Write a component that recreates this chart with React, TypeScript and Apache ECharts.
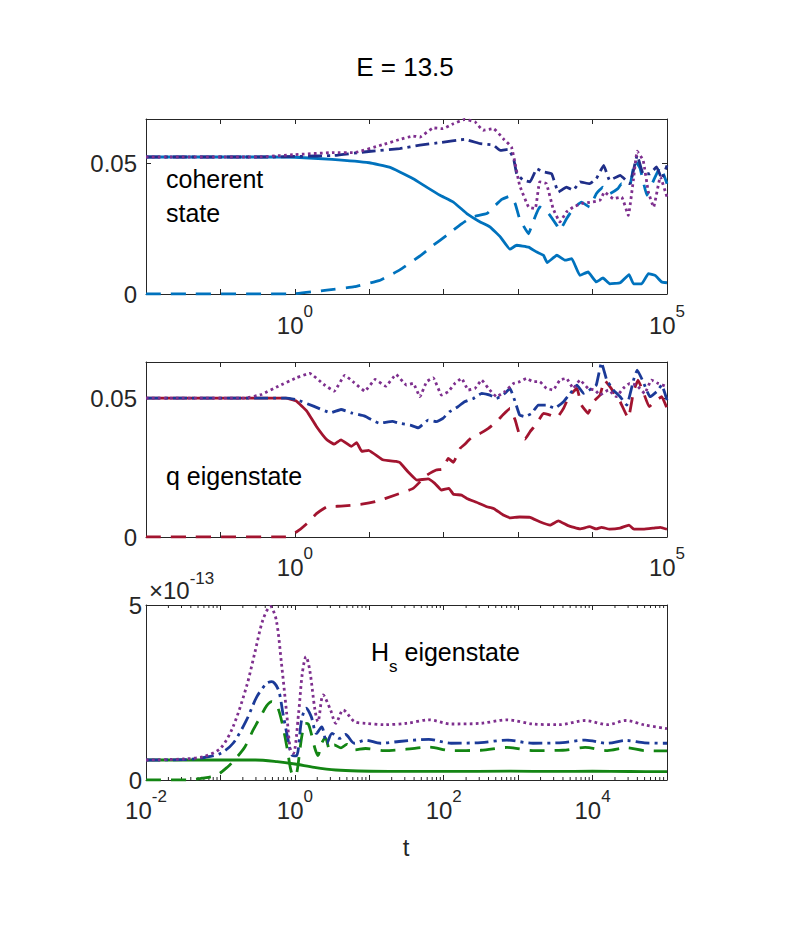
import React, { useEffect, useRef } from "react";
import * as echarts from "echarts";

// Each point is [log10(t), value].
// Panel 1: coherent state
const coherentSolid: number[][] = [
  [-2, 0.0523], [-1, 0.0523], [-0.3, 0.0523], [0, 0.0522], [0.5, 0.0514], [1.0, 0.0501], [1.27, 0.0484],
  [1.41, 0.0466], [1.59, 0.044], [1.77, 0.0408], [1.95, 0.0377], [2.13, 0.0351], [2.31, 0.0307],
  [2.49, 0.0275], [2.62, 0.0256], [2.76, 0.0218], [2.89, 0.0171], [2.98, 0.0186], [3.14, 0.0179],
  [3.25, 0.016], [3.34, 0.0148], [3.39, 0.012], [3.52, 0.0148], [3.63, 0.0129], [3.72, 0.0135],
  [3.83, 0.0071], [3.94, 0.0084], [4.05, 0.0046], [4.14, 0.0061], [4.23, 0.0039], [4.37, 0.0043],
  [4.49, 0.0074], [4.55, 0.0039], [4.66, 0.0039], [4.75, 0.0078], [4.84, 0.0071], [4.93, 0.0046], [5.0, 0.0043],
];
const coherentDashed: number[][] = [
  [-2, 0], [-0.05, 0], [0.43, 0.0015], [0.8, 0.0028], [1.13, 0.0051], [1.41, 0.0092], [1.68, 0.0145],
  [1.86, 0.0186], [2.04, 0.0224], [2.24, 0.0268], [2.38, 0.0294], [2.58, 0.0307], [2.67, 0.0332],
  [2.78, 0.0361], [2.89, 0.0374], [2.96, 0.0345], [3.02, 0.0287], [3.14, 0.023], [3.2, 0.0275],
  [3.29, 0.0332], [3.41, 0.0307], [3.52, 0.0262], [3.56, 0.0243], [3.65, 0.0287], [3.74, 0.0326],
  [3.85, 0.0351], [3.96, 0.0332], [4.05, 0.0383], [4.14, 0.0408], [4.23, 0.0383], [4.34, 0.0402],
  [4.39, 0.0421], [4.5, 0.0415], [4.57, 0.051], [4.64, 0.0478], [4.73, 0.0377], [4.82, 0.0434],
  [4.91, 0.0485], [5.0, 0.0421],
];
const coherentDashDot: number[][] = [
  [-2, 0.0523], [-0.3, 0.0523], [0, 0.0525], [0.53, 0.0529], [0.99, 0.0544], [1.41, 0.0555],
  [1.68, 0.0568], [1.95, 0.0578], [2.28, 0.059], [2.49, 0.0574], [2.67, 0.0568], [2.76, 0.0548],
  [2.87, 0.0552], [2.94, 0.0516], [2.98, 0.0459], [3.07, 0.0434], [3.16, 0.0428], [3.25, 0.0478],
  [3.34, 0.0466], [3.45, 0.0459], [3.54, 0.0389], [3.65, 0.0408], [3.74, 0.0396], [3.83, 0.0428],
  [3.96, 0.0421], [4.05, 0.044], [4.15, 0.0491], [4.23, 0.0434], [4.37, 0.0453], [4.5, 0.0421],
  [4.6, 0.0529], [4.68, 0.0459], [4.77, 0.0459], [4.86, 0.0485], [4.93, 0.044], [5.0, 0.0491],
];
const coherentDotted: number[][] = [
  [-2, 0.0523], [-0.5, 0.0523], [0, 0.0532], [0.53, 0.054], [0.8, 0.054], [1.18, 0.057], [1.41, 0.059],
  [1.59, 0.0603], [1.68, 0.0599], [1.86, 0.0634], [1.99, 0.0631], [2.13, 0.065], [2.28, 0.0666],
  [2.42, 0.0657], [2.53, 0.0625], [2.67, 0.0631], [2.8, 0.0593], [2.91, 0.0561], [2.96, 0.0497],
  [3.02, 0.0415], [3.14, 0.0332], [3.23, 0.0326], [3.29, 0.0428], [3.38, 0.0421], [3.47, 0.0326],
  [3.56, 0.0275], [3.65, 0.0313], [3.74, 0.0332], [3.85, 0.0345], [3.99, 0.0351], [4.1, 0.0358],
  [4.16, 0.0389], [4.28, 0.0364], [4.39, 0.037], [4.48, 0.03], [4.55, 0.044], [4.6, 0.0545],
  [4.68, 0.051], [4.75, 0.0389], [4.82, 0.0332], [4.91, 0.0447], [5.0, 0.037],
];

// Panel 2: q eigenstate
const qSolid: number[][] = [
  [-2, 0.05], [-0.12, 0.05], [0.02, 0.0489], [0.16, 0.0453], [0.29, 0.0398], [0.43, 0.035], [0.53, 0.0334],
  [0.62, 0.035], [0.76, 0.0326], [0.83, 0.034], [0.9, 0.0308], [0.99, 0.0312], [1.18, 0.0278],
  [1.36, 0.0272], [1.41, 0.0268], [1.52, 0.0235], [1.64, 0.0205], [1.79, 0.0209], [1.88, 0.0193],
  [1.97, 0.0169], [2.07, 0.0175], [2.13, 0.0154], [2.24, 0.0151], [2.31, 0.0139], [2.44, 0.0125],
  [2.58, 0.0109], [2.67, 0.0103], [2.8, 0.0079], [2.89, 0.0069], [3.02, 0.0072], [3.16, 0.0071],
  [3.29, 0.0055], [3.43, 0.0043], [3.54, 0.0058], [3.67, 0.0041], [3.83, 0.0029], [3.96, 0.0037],
  [4.05, 0.0029], [4.12, 0.0035], [4.23, 0.0028], [4.37, 0.0032], [4.49, 0.0043], [4.55, 0.0029],
  [4.68, 0.0028], [4.82, 0.0032], [4.91, 0.0035], [5.0, 0.0028],
];
const qDashed: number[][] = [
  [-2, 0], [-0.12, 0], [0.02, 0.0018], [0.16, 0.0048], [0.29, 0.0084], [0.43, 0.0109], [0.62, 0.0111],
  [0.9, 0.0118], [1.08, 0.0127], [1.36, 0.0152], [1.59, 0.0175], [1.77, 0.0222], [1.9, 0.0241],
  [1.99, 0.0245], [2.06, 0.0283], [2.13, 0.0269], [2.22, 0.0319], [2.28, 0.0333], [2.37, 0.0357],
  [2.49, 0.0373], [2.6, 0.0391], [2.71, 0.0415], [2.8, 0.0441], [2.89, 0.0463], [2.96, 0.0421],
  [3.02, 0.0367], [3.09, 0.0352], [3.16, 0.0379], [3.25, 0.0409], [3.34, 0.0445], [3.43, 0.0439],
  [3.52, 0.0429], [3.61, 0.0463], [3.67, 0.0499], [3.74, 0.0523], [3.79, 0.0535], [3.85, 0.0475],
  [3.94, 0.0445], [4.01, 0.0487], [4.1, 0.0511], [4.16, 0.0565], [4.25, 0.0535], [4.37, 0.0487],
  [4.48, 0.0427], [4.55, 0.0523], [4.61, 0.0565], [4.68, 0.0523], [4.76, 0.0469], [4.86, 0.0493],
  [4.93, 0.0505], [5.0, 0.0463],
];
const qDashDot: number[][] = [
  [-2, 0.05], [-0.12, 0.05], [0.02, 0.0495], [0.25, 0.0471], [0.48, 0.0447], [0.62, 0.0459], [0.76, 0.0447],
  [0.94, 0.0435], [1.13, 0.041], [1.31, 0.0416], [1.41, 0.0409], [1.55, 0.0403], [1.66, 0.0393],
  [1.79, 0.0421], [1.9, 0.0415], [1.99, 0.0427], [2.08, 0.0451], [2.19, 0.0469], [2.28, 0.0487],
  [2.4, 0.0499], [2.51, 0.0517], [2.62, 0.0511], [2.71, 0.0499], [2.82, 0.0517], [2.89, 0.0535],
  [2.96, 0.0487], [3.02, 0.0439], [3.09, 0.0433], [3.18, 0.0445], [3.27, 0.0475], [3.38, 0.0475],
  [3.49, 0.0463], [3.61, 0.0487], [3.7, 0.0517], [3.79, 0.0547], [3.88, 0.0517], [3.99, 0.0535],
  [4.05, 0.0547], [4.12, 0.0628], [4.19, 0.0565], [4.28, 0.0529], [4.37, 0.0505], [4.46, 0.0475],
  [4.55, 0.0565], [4.6, 0.0601], [4.68, 0.0559], [4.77, 0.0505], [4.86, 0.0523], [4.93, 0.0547],
  [5.0, 0.0493],
];
const qDotted: number[][] = [
  [-2, 0.05], [-0.68, 0.05], [-0.45, 0.0513], [-0.22, 0.0543], [0.02, 0.0573], [0.2, 0.0589], [0.39, 0.0549],
  [0.53, 0.0525], [0.67, 0.0582], [0.8, 0.0555], [0.94, 0.0525], [1.08, 0.0567], [1.22, 0.0543],
  [1.36, 0.0585], [1.5, 0.0547], [1.59, 0.0553], [1.68, 0.0505], [1.77, 0.0559], [1.86, 0.0573],
  [1.97, 0.0511], [2.06, 0.0523], [2.15, 0.0553], [2.24, 0.0571], [2.33, 0.0529], [2.42, 0.0535],
  [2.51, 0.0565], [2.6, 0.0535], [2.71, 0.0505], [2.82, 0.0523], [2.94, 0.0553], [3.02, 0.0559],
  [3.11, 0.0571], [3.2, 0.0559], [3.29, 0.0559], [3.38, 0.0535], [3.47, 0.0529], [3.56, 0.0565],
  [3.65, 0.0571], [3.74, 0.0535], [3.83, 0.0565], [3.94, 0.0535], [4.03, 0.0529], [4.1, 0.0511],
  [4.21, 0.0529], [4.32, 0.0505], [4.41, 0.0535], [4.5, 0.0553], [4.59, 0.0547], [4.7, 0.0517],
  [4.79, 0.0565], [4.88, 0.0553], [5.0, 0.0541],
];

// Panel 3: Hs eigenstate (values in units of 1e-13)
const hsSolid: number[][] = [
  [-2, 0.571], [-0.53, 0.571], [-0.24, 0.524], [0, 0.457], [0.26, 0.362], [0.55, 0.286], [0.85, 0.257],
  [1.35, 0.248], [2.0, 0.245], [2.9, 0.252], [3.5, 0.244], [4.0, 0.25], [4.5, 0.243], [5.0, 0.24],
];
const hsDashed: number[][] = [
  [-2, 0], [-1.45, 0], [-1.25, 0.05], [-1.05, 0.14], [-0.9, 0.38], [-0.8, 0.6], [-0.67, 0.95],
  [-0.56, 1.43], [-0.45, 1.85], [-0.38, 2.12], [-0.31, 2.24], [-0.24, 2.12], [-0.17, 1.62],
  [-0.1, 0.86], [-0.05, 0.25], [0.0, 0.1], [0.03, 0.25], [0.07, 0.9], [0.1, 1.33], [0.14, 1.62],
  [0.18, 1.6], [0.22, 1.33], [0.27, 0.9], [0.31, 0.7], [0.36, 1.05], [0.41, 1.2], [0.47, 0.86],
  [0.53, 1.0], [0.62, 0.92], [0.7, 1.02], [0.8, 0.86], [0.95, 0.9], [1.2, 0.84], [1.5, 0.88],
  [1.8, 0.94], [2.1, 0.84], [2.5, 0.85], [2.85, 0.93], [3.2, 0.84], [3.6, 0.85], [3.9, 0.93],
  [4.2, 0.84], [4.45, 0.92], [4.7, 0.84], [5.0, 0.83],
];
const hsDashDot: number[][] = [
  [-2, 0.571], [-1.5, 0.58], [-1.2, 0.65], [-1.0, 0.76], [-0.83, 1.05], [-0.65, 1.71], [-0.51, 2.38],
  [-0.38, 2.76], [-0.31, 2.81], [-0.22, 2.57], [-0.16, 1.9], [-0.09, 1.14], [-0.04, 0.71], [0.02, 0.69],
  [0.09, 1.71], [0.15, 2.05], [0.22, 1.81], [0.29, 1.33], [0.36, 1.52], [0.43, 1.05], [0.5, 1.33],
  [0.6, 1.19], [0.68, 1.3], [0.8, 1.05], [0.95, 1.14], [1.15, 1.05], [1.4, 1.1], [1.8, 1.16],
  [2.1, 1.05], [2.5, 1.07], [2.85, 1.14], [3.2, 1.05], [3.6, 1.07], [3.9, 1.14], [4.2, 1.05],
  [4.45, 1.13], [4.7, 1.06], [5.0, 1.05],
];
const hsDotted: number[][] = [
  [-2, 0.571], [-1.5, 0.6], [-1.23, 0.667], [-1.0, 0.905], [-0.83, 1.524], [-0.65, 2.667], [-0.54, 3.619],
  [-0.43, 4.571], [-0.33, 4.96], [-0.25, 4.571], [-0.18, 3.333], [-0.11, 1.905], [-0.06, 0.857],
  [-0.02, 0.762], [0.05, 1.905], [0.1, 3.048], [0.15, 3.524], [0.2, 3.14], [0.27, 2.0], [0.31, 1.67],
  [0.38, 2.43], [0.48, 2.0], [0.55, 1.62], [0.65, 2.0], [0.8, 1.67], [0.95, 1.62], [1.2, 1.58],
  [1.5, 1.62], [1.8, 1.72], [2.1, 1.6], [2.5, 1.62], [2.85, 1.72], [3.2, 1.6], [3.56, 1.58],
  [3.9, 1.7], [4.2, 1.58], [4.45, 1.7], [4.7, 1.57], [5.0, 1.47],
];

// axis tick labels / limits
const xMin = 0.01;
const xMax = 1e5;
const yMaxTop = 0.0668;
const yMaxMid = 0.063;
const yMaxBot = 5;
const topLabelExps = [0, 5];
const botLabelExps = [-2, 0, 2, 4];
const minorMantissas = [2, 3, 4, 5, 6, 7, 8, 9];
const minorDecades = [0.01, 0.1, 1, 10, 100, 1000, 10000];

const AX = "#262626";
const FONT = "'Liberation Sans', Arial, Helvetica, sans-serif";
const LW = 2.8;
const DASH = [15, 10];
const DASHDOT = [14, 5, 3, 5];
const DOT = [2.7, 3.3];

const toXY = (pts: number[][]) => pts.map(([e, v]) => [Math.pow(10, e), v]);

export default function App() {
  const ref = useRef<HTMLDivElement>(null);
  useEffect(() => {
    if (!ref.current) return;
    const chart = echarts.init(ref.current, undefined, { renderer: "svg" });

    const expRich = {
      b: { fontSize: 24, fontFamily: FONT, color: AX, height: 40, lineHeight: 40, verticalAlign: "top" },
      s: { fontSize: 17, fontFamily: FONT, color: AX, height: 12, lineHeight: 12, verticalAlign: "top" },
    };
    const xAx = (gridIndex: number, position: string, exps: number[] | null, margin = 10) => ({
      type: "log",
      logBase: 10,
      gridIndex,
      position,
      min: xMin,
      max: xMax,
      splitNumber: 7,
      axisLine: { show: true, onZero: false, lineStyle: { color: AX, width: 1 } },
      axisTick: { show: true, inside: true, length: 5, lineStyle: { color: AX, width: 1 } },
      splitLine: { show: false },
      minorTick: { show: false },
      axisLabel: exps
        ? {
            show: true,
            margin,
            showMinLabel: true,
            showMaxLabel: true,
            formatter: (v: number) => {
              const e = Math.round(Math.log10(v));
              return exps.indexOf(e) >= 0 ? `{b|10}{s|${e}}` : "";
            },
            rich: expRich,
          }
        : { show: false },
    });
    const yAx = (gridIndex: number, position: string, max: number, interval: number, labels: boolean, margin: number) => ({
      type: "value",
      gridIndex,
      position,
      min: 0,
      max,
      interval,
      axisLine: { show: true, onZero: false, lineStyle: { color: AX, width: 1 } },
      axisTick: { show: true, inside: true, length: 5, lineStyle: { color: AX, width: 1 } },
      splitLine: { show: false },
      axisLabel: labels
        ? {
            show: true,
            margin,
            fontSize: 24,
            fontFamily: FONT,
            color: AX,
            padding: [6, 0, 0, 0],
            showMaxLabel: true,
            formatter: (v: number) => {
              if (Math.abs(v) < 1e-12) return "0";
              if (Math.abs(v - interval) < 1e-9) return String(interval);
              return "";
            },
          }
        : { show: false },
    });

    const line = (data: number[][], color: string, type: any, xi: number) => ({
      type: "line",
      xAxisIndex: xi,
      yAxisIndex: xi,
      data: toXY(data),
      showSymbol: false,
      symbol: "none",
      smooth: xi >= 4 ? 0.3 : 0.1,
      lineStyle: { color, width: LW, type, cap: "butt", join: "round" },
    });

    const minorTicks: number[][] = [];
    minorDecades.forEach((d) => minorMantissas.forEach((m) => minorTicks.push([m * d, 0])));

    const LBLUE = "#0072BD";
    const NAVY = "#1f2e88";
    const BLUE2 = "#1b3a98";
    const PURPLE = "#7E2F8E";
    const RED = "#A2142F";
    const GREEN = "#138513";

    chart.setOption({
      animation: false,
      backgroundColor: "#ffffff",
      grid: [
        { left: 146, top: 119, width: 521, height: 175 },
        { left: 146, top: 362, width: 521, height: 175 },
        { left: 146, top: 605, width: 521, height: 175 },
      ],
      xAxis: [
        xAx(0, "bottom", topLabelExps, 11),
        xAx(0, "top", null),
        xAx(1, "bottom", topLabelExps, 10),
        xAx(1, "top", null),
        xAx(2, "bottom", botLabelExps, 10),
        xAx(2, "top", null),
      ],
      yAxis: [
        yAx(0, "left", yMaxTop, 0.05, true, 9),
        yAx(0, "right", yMaxTop, 0.05, false, 9),
        yAx(1, "left", yMaxMid, 0.05, true, 9),
        yAx(1, "right", yMaxMid, 0.05, false, 9),
        yAx(2, "left", yMaxBot, 5, true, 4),
        yAx(2, "right", yMaxBot, 5, false, 4),
      ],
      series: [
        line(coherentSolid, LBLUE, "solid", 0),
        line(coherentDashed, LBLUE, DASH, 0),
        line(coherentDashDot, NAVY, DASHDOT, 0),
        line(coherentDotted, PURPLE, DOT, 0),
        line(qSolid, RED, "solid", 2),
        line(qDashed, RED, DASH, 2),
        line(qDashDot, BLUE2, DASHDOT, 2),
        line(qDotted, PURPLE, DOT, 2),
        line(hsSolid, GREEN, "solid", 4),
        line(hsDashed, GREEN, DASH, 4),
        line(hsDashDot, BLUE2, DASHDOT, 4),
        line(hsDotted, PURPLE, DOT, 4),
        {
          type: "custom",
          xAxisIndex: 4,
          yAxisIndex: 4,
          silent: true,
          clip: false,
          data: minorTicks,
          encode: { x: 0, y: 1 },
          renderItem: (_p: any, api: any) => {
            const t = api.value(0);
            const b = api.coord([t, 0]);
            const tp = api.coord([t, yMaxBot]);
            return {
              type: "group",
              children: [
                { type: "line", shape: { x1: b[0], y1: b[1], x2: b[0], y2: b[1] - 3 }, style: { stroke: AX, lineWidth: 1 } },
                { type: "line", shape: { x1: tp[0], y1: tp[1], x2: tp[0], y2: tp[1] + 3 }, style: { stroke: AX, lineWidth: 1 } },
              ],
            };
          },
        },
      ],
      graphic: [
        { type: "text", x: 405, y: 67, style: { text: "E = 13.5", fontSize: 26, fontFamily: FONT, fill: "#000", align: "center", verticalAlign: "middle" } },
        { type: "text", x: 166, y: 179, style: { text: "coherent", fontSize: 25, fontFamily: FONT, fill: "#000", align: "left", verticalAlign: "middle" } },
        { type: "text", x: 166, y: 213, style: { text: "state", fontSize: 25, fontFamily: FONT, fill: "#000", align: "left", verticalAlign: "middle" } },
        { type: "text", x: 166, y: 475.5, style: { text: "q eigenstate", fontSize: 25, fontFamily: FONT, fill: "#000", align: "left", verticalAlign: "middle" } },
        {
          type: "text",
          x: 371,
          y: 637,
          style: {
            text: "{h|H}{sub|s}{n| eigenstate}",
            align: "left",
            verticalAlign: "top",
            fill: "#000",
            rich: {
              h: { fontSize: 25, fontFamily: FONT, fill: "#000", height: 30, lineHeight: 30, verticalAlign: "top" },
              sub: { fontSize: 17, fontFamily: FONT, fill: "#000", height: 58, lineHeight: 58, verticalAlign: "top" },
              n: { fontSize: 25, fontFamily: FONT, fill: "#000", height: 30, lineHeight: 30, verticalAlign: "top" },
            },
          },
        },
        {
          type: "text",
          x: 149,
          y: 570,
          style: {
            text: "{b|\u00d710}{s|-13}",
            align: "left",
            verticalAlign: "top",
            fill: AX,
            rich: {
              b: { fontSize: 24, fontFamily: FONT, fill: AX, height: 40, lineHeight: 40, verticalAlign: "top" },
              s: { fontSize: 17, fontFamily: FONT, fill: AX, height: 16, lineHeight: 16, verticalAlign: "top" },
            },
          },
        },
        { type: "text", x: 406, y: 847, style: { text: "t", fontSize: 24, fontFamily: FONT, fill: AX, align: "center", verticalAlign: "middle" } },
      ],
    });
    return () => chart.dispose();
  }, []);
  return (
    <div
      ref={ref}
      style={{ position: "fixed", left: 0, top: 0, width: 789, height: 927, background: "#fff" }}
    />
  );
}
